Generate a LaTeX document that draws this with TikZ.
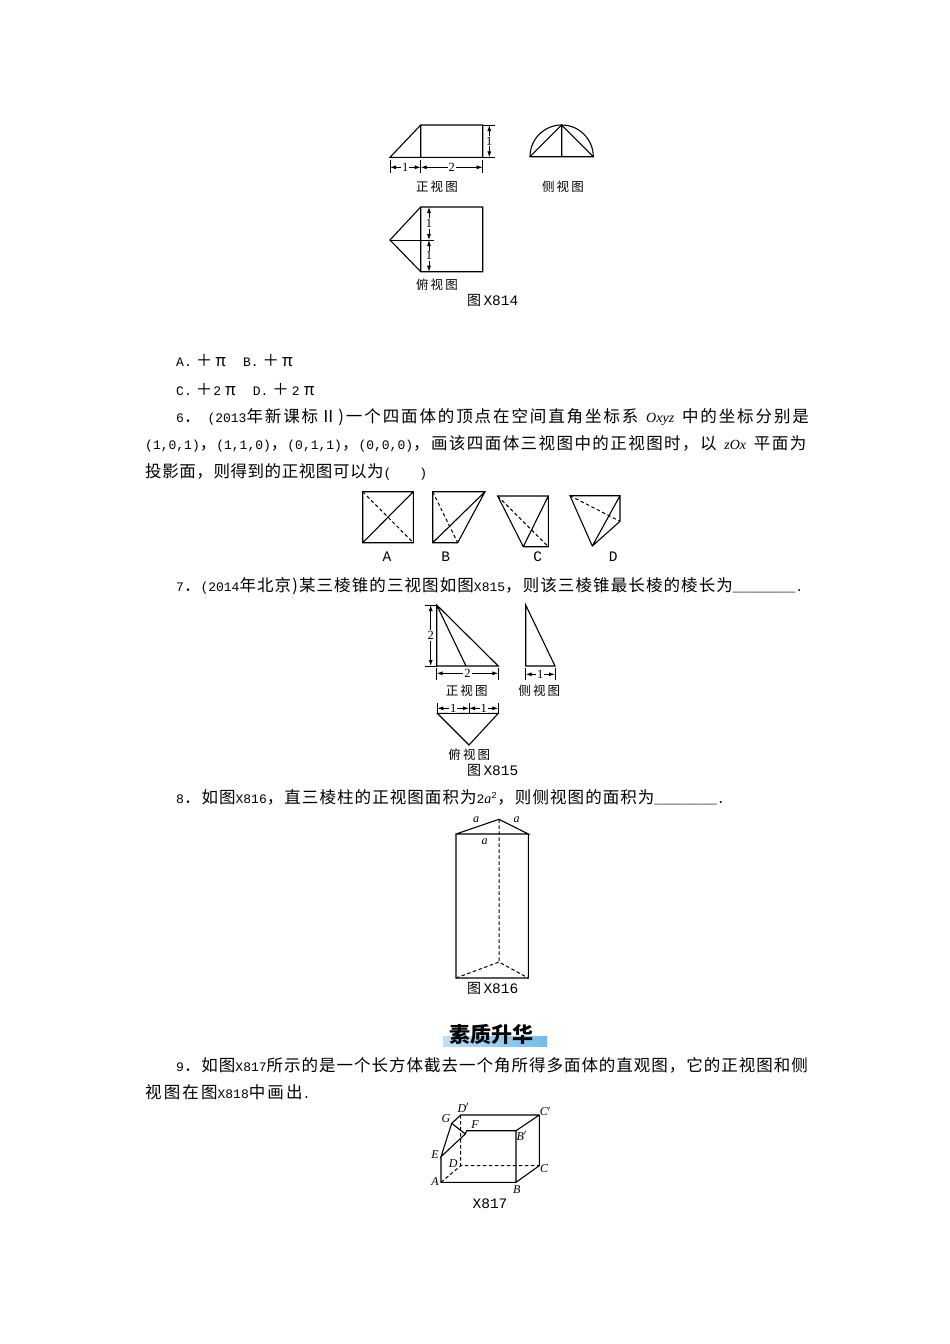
\documentclass[tikz,border=0pt]{standalone}
\usepackage{fontspec}
\setmainfont{Liberation Serif}
\setmonofont{Liberation Mono}
\newfontfamily\cjk{Noto Sans CJK SC}
\usetikzlibrary{arrows.meta}
\def\zhtrack{0}
\newcommand{\zh}[1]{{\fontsize{16.5}{16.5}\cjk\addfontfeature{LetterSpace=\zhtrack}#1}}
\newcommand{\zhcap}[1]{{\fontsize{14}{14}\cjk #1}}
\newcommand{\ital}[1]{{\fontsize{14}{14}\rmfamily\itshape #1}}
\definecolor{barleft}{RGB}{190,224,247}
\definecolor{barright}{RGB}{115,186,238}
\tikzset{
    track/.code = {\def\zhtrack{#1}},
    line/.style = {line width=1.1pt,draw=black},
    hidden/.style = {line width=1pt,draw=black,dash pattern=on 3.5pt off 2.5pt},
    dimen/.style = {line width=0.8pt,draw=black,{Latex[length=6pt,width=4pt]}-{Latex[length=6pt,width=4pt]}},
    tick/.style = {line width=0.8pt,draw=black},
    para/.style = {anchor=west,inner sep=0pt,font=\fontsize{13}{14}\ttfamily},
    caption/.style = {inner sep=0pt,font=\fontsize{14.5}{15}\ttfamily},
    viewname/.style = {inner sep=0pt,font=\fontsize{12.5}{14}\cjk},
    dimtext/.style = {inner sep=1pt,fill=white,font=\fontsize{12.5}{12}\selectfont},
    vertex/.style = {inner sep=0pt,font=\fontsize{12}{12}\rmfamily\itshape}
}
\begin{document}
\begin{tikzpicture}[x=1pt,y=-1pt]
  \useasboundingbox (0,0) rectangle (950,1344);

  % figure X814
  \coordinate (fa) at (390,157.3);
  \coordinate (fb) at (420.7,125);
  \coordinate (fc) at (482.7,125);
  \coordinate (fd) at (482.7,157.3);
  \coordinate (fe) at (420.7,157.3);
  \draw[line] (fa) -- (fb) -- (fc) -- (fd) -- cycle (fb) -- (fe);
  \draw[tick] (fc) -- (495,125) (fd) -- (495,157.3);
  \draw[dimen] (489.3,125) -- (489.3,157.3) node[midway,dimtext] (d1) {1};
  \draw[tick] (390,160) -- (390,173) (420.7,160) -- (420.7,173) (482.7,160) -- (482.7,173);
  \draw[dimen] (390,167.3) -- (420.7,167.3) node[midway,dimtext] (d2) {1};
  \draw[dimen] (420.7,167.3) -- (482.7,167.3) node[midway,dimtext] (d3) {2};
  \node[viewname] (v1) at (437,187) {正\,视\,图};

  \coordinate (sa) at (530,156.7);
  \coordinate (sb) at (593.3,156.7);
  \coordinate (sc) at (561.7,125);
  \coordinate (sd) at (561.7,156.7);
  \draw[line] (sa) arc[start angle=180,end angle=0,x radius=31.65,y radius=-31.7] -- cycle;
  \draw[line] (sa) -- (sc) -- (sb) (sc) -- (sd);
  \node[viewname] (v2) at (563,187) {侧\,视\,图};

  \coordinate (ta) at (390,240);
  \coordinate (tb) at (420.7,207);
  \coordinate (tc) at (482.7,207);
  \coordinate (td) at (482.7,271.7);
  \coordinate (te) at (420.7,271.7);
  \draw[line] (ta) -- (tb) -- (tc) -- (td) -- (te) -- cycle (tb) -- (te);
  \draw[tick] (ta) -- (434.3,240);
  \draw[dimen] (429,207) -- (429,240) node[midway,dimtext] (d4) {1};
  \draw[dimen] (429,240) -- (429,271.7) node[midway,dimtext] (d5) {1};
  \node[viewname] (v3) at (437,285) {俯\,视\,图};
  \node[caption] (c1) at (492.7,300) {\zhcap{图}\,X814};

  % text lines
  \node[para] (l1) at (176,361) {A.\hspace{4pt}\zh{＋}\hspace{3pt}\zh{π}\hspace{17pt}B.\hspace{4pt}\zh{＋}\hspace{3pt}\zh{π}};
  \node[para] (l2) at (176,390) {C.\hspace{4pt}\zh{＋}\hspace{1pt}2\hspace{4pt}\zh{π}\hspace{17pt}D.\hspace{4pt}\zh{＋}\hspace{3pt}2\hspace{4pt}\zh{π}};
  \node[para,track=11.5] (l3) at (176,417) {6\zh{．}\hspace{7pt}(2013\zh{年新课标Ⅱ)一个四面体的顶点在空间直角坐标系} \ital{Oxyz} \zh{中的坐标分别是}};
  \node[para,track=8.7] (l4) at (145,444) {(1,0,1)\zh{，}(1,1,0)\zh{，}(0,1,1)\zh{，}(0,0,0)\zh{，画该四面体三视图中的正视图时，以} \ital{zOx} \zh{平面为}};
  \node[para,track=3.5] (l5) at (145,472) {\zh{投影面，则得到的正视图可以为}(\hspace{28pt})};

  % answers of question 6
  \coordinate (aa) at (362.7,491.7);
  \coordinate (ab) at (413.3,491.7);
  \coordinate (ac) at (413.3,542.7);
  \coordinate (ad) at (362.7,542.7);
  \draw[line] (aa) -- (ab) -- (ac) -- (ad) -- cycle (ad) -- (ab);
  \draw[hidden] (aa) -- (ac);
  \node[caption] (ca) at (387,557) {A};

  \coordinate (ba) at (432.7,491.7);
  \coordinate (bb) at (485,491.7);
  \coordinate (bc) at (457.7,542.7);
  \coordinate (bd) at (432.7,542.7);
  \draw[line] (ba) -- (bb) -- (bc) -- (bd) -- cycle (bd) -- (bb);
  \draw[hidden] (ba) -- (bc);
  \node[caption] (cb) at (445.7,557) {B};

  \coordinate (ga) at (497.7,496);
  \coordinate (gb) at (548.3,496);
  \coordinate (gc) at (548.3,546.7);
  \coordinate (gd) at (523.3,546.7);
  \draw[line] (ga) -- (gb) -- (gc) -- (gd) -- cycle (gd) -- (gb);
  \draw[hidden] (ga) -- (gc);
  \node[caption] (cc) at (537.7,557) {C};

  \coordinate (ea) at (570,495.7);
  \coordinate (eb) at (620,495.7);
  \coordinate (ec) at (620,521.3);
  \coordinate (ed) at (592.3,546);
  \draw[line] (ea) -- (eb) -- (ec) -- (ed) -- cycle (ed) -- (eb);
  \draw[hidden] (ea) -- (ec);
  \node[caption] (cd) at (613.3,557) {D};

  \node[para,track=6.7] (l6) at (176,586) {7\zh{．}(2014\zh{年北京)某三棱锥的三视图如图}X815\zh{，则该三棱锥最长棱的棱长为}\_\_\_\_\_\_\_\_.};

  % figure X815
  \coordinate (pa) at (436.7,605);
  \coordinate (pb) at (436.7,666);
  \coordinate (pc) at (466,666);
  \coordinate (pd) at (498.3,666);
  \draw[line] (pa) -- (pb) -- (pd) -- cycle (pa) -- (pc);
  \draw[tick] (425,605) -- (pa) (425,666) -- (pb);
  \draw[dimen] (430.7,605) -- (430.7,666) node[midway,dimtext] (d6) {2};
  \draw[tick] (436.7,668) -- (436.7,680) (498.3,668) -- (498.3,680);
  \draw[dimen] (436.7,673.3) -- (498.3,673.3) node[pos=0.5,dimtext] (d7) {2};
  \node[viewname] (v4) at (466.7,690.7) {正\,视\,图};

  \coordinate (qa) at (525.7,605);
  \coordinate (qb) at (525.7,666);
  \coordinate (qc) at (555,666);
  \draw[line] (qa) -- (qb) -- (qc) -- cycle;
  \draw[tick] (525.7,668) -- (525.7,680) (555,668) -- (555,680);
  \draw[dimen] (525.7,674.3) -- (555,674.3) node[midway,dimtext] (d8) {1};
  \node[viewname] (v5) at (539.3,691) {侧\,视\,图};

  \coordinate (ra) at (437.3,713.3);
  \coordinate (rb) at (498.3,713.3);
  \coordinate (rc) at (469,745);
  \draw[line] (ra) -- (rb) -- (rc) -- cycle;
  \draw[tick] (437.3,703) -- (ra) (498.3,703) -- (rb) (469,703) -- (469,713.3);
  \draw[dimen] (437.3,708.3) -- (469,708.3) node[midway,dimtext] (d9) {1};
  \draw[dimen] (469,708.3) -- (498.3,708.3) node[midway,dimtext] (d10) {1};
  \node[viewname] (v6) at (469.3,755) {俯\,视\,图};
  \node[caption] (c2) at (492.7,770) {\zhcap{图}\,X815};

  \node[para,track=6.5] (l7) at (176,797) {8\zh{．如图}X816\zh{，直三棱柱的正视图面积为}2\ital{a}\textsuperscript{2}\zh{，则侧视图的面积为}\_\_\_\_\_\_\_\_.};

  % figure X816
  \coordinate (ka) at (499,819.3);
  \coordinate (kb) at (456,834);
  \coordinate (kc) at (528.3,834);
  \coordinate (kd) at (456,978);
  \coordinate (ke) at (528.3,978);
  \coordinate (kf) at (499,962);
  \draw[line] (kb) -- (ka) -- (kc) -- (kb) -- (kd) -- (ke) -- (kc);
  \draw[hidden] (ka) -- (kf) (kd) -- (kf) -- (ke);
  \node[vertex] (a1) at (476,820) {a};
  \node[vertex] (a2) at (516.7,820) {a};
  \node[vertex] (a3) at (484.7,841.7) {a};
  \node[caption] (c3) at (492.7,988) {\zhcap{图}\,X816};

  % heading
  \fill[left color=barleft,right color=barright] (443,1036) rectangle (547,1046);
  \node[inner sep=0pt,font=\fontsize{21}{22}\cjk\bfseries] (h1) at (491,1034) {素质升华};

  \node[para,track=6] (l8) at (176,1065) {9\zh{．如图}X817\zh{所示的是一个长方体截去一个角所得多面体的直观图，它的正视图和侧}};
  \node[para,track=13] (l9) at (145,1092) {\zh{视图在图}X818\zh{中画出}.};

  % figure X817
  \coordinate (A) at (441,1182.3);
  \coordinate (B) at (516,1182.3);
  \coordinate (C) at (539.3,1165.7);
  \coordinate (D) at (460.7,1165.7);
  \coordinate (C1) at (539.3,1115);
  \coordinate (D1) at (460.7,1115);
  \coordinate (B1) at (516,1130.7);
  \coordinate (F) at (466.7,1130.7);
  \coordinate (H) at (465.3,1134);
  \coordinate (G) at (451.7,1123.3);
  \coordinate (E) at (441,1156.7);
  \draw[line] (E) -- (A) -- (B) -- (C) -- (C1) -- (D1) -- (G) -- (E) -- (H) -- (F) -- (B1) -- (C1) (B1) -- (B);
  \draw[line] (G) -- (H);
  \draw[hidden] (D1) -- (D) (A) -- (D) -- (C);
  \node[vertex] (vd1) at (463.3,1107.7) {D$'$};
  \node[vertex] (vc1) at (545.3,1111) {C$'$};
  \node[vertex] (vg) at (446,1119) {G};
  \node[vertex] (vf) at (475,1124.3) {F};
  \node[vertex] (vb1) at (521.7,1135.7) {B$'$};
  \node[vertex] (ve) at (435,1155) {E};
  \node[vertex] (vd) at (453.3,1163.3) {D};
  \node[vertex] (vc) at (544,1169) {C};
  \node[vertex] (va) at (435,1181.7) {A};
  \node[vertex] (vb) at (516.7,1190) {B};
  \node[caption] (c4) at (490,1204) {X817};
 \end{tikzpicture}
\end{document}
